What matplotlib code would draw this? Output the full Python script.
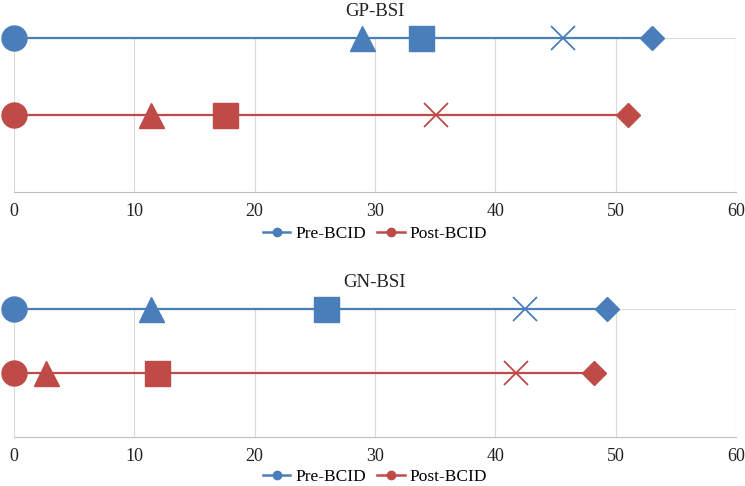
import numpy as np
import matplotlib.pyplot as plt

plt.rcParams['font.family'] = ['Liberation Serif', 'DejaVu Serif']

markers = ['o', '^', 's', 'x', 'D']
series = ['Pre-BCID', 'Post-BCID']
gp_pre = [0, 28.9, 33.8, 45.6, 53.0]
gp_post = [0, 11.4, 17.5, 35.1, 51.0]
gn_pre = [0, 11.4, 25.9, 42.5, 49.3]
gn_post = [0, 2.7, 11.9, 41.7, 48.2]
xticks = [0, 10, 20, 30, 40, 50, 60]

blue = '#4a7ebb'
red = '#be4b48'

fig = plt.figure(figsize=(7.45, 4.86), dpi=100)
ax1 = fig.add_axes([0.0188, 0.605, 0.969, 0.317])
ax2 = fig.add_axes([0.0188, 0.1008, 0.969, 0.2634])


def draw(ax, pre, post, title, legend_y):
    for vals, ypos, col, name in [(pre, 2, blue, series[0]), (post, 1, red, series[1])]:
        ax.plot([min(vals), max(vals)], [ypos, ypos], color=col, lw=1.6, zorder=3,
                clip_on=False)
        for v, m in zip(vals, markers):
            if m == 'x':
                ax.plot(v, ypos, marker=m, ms=17, mew=1.3, color=col, zorder=4,
                        clip_on=False)
            elif m == 'D':
                ax.plot(v, ypos, marker=m, ms=12, color=col, zorder=4, clip_on=False)
            else:
                ax.plot(v, ypos, marker=m, ms=18, color=col, mec=col, zorder=4,
                        clip_on=False)
        # legend proxy
        ax.plot([], [], color=col, lw=1.8, marker='o', ms=6, label=name)
    ax.set_xlim(0, 60)
    ax.set_ylim(0, 2)
    ax.set_xticks(xticks)
    ax.set_yticks([])
    for x in xticks:
        ax.axvline(x, color='#d9d9d9', lw=0.8, zorder=0)
    ax.axhline(2, color='#d9d9d9', lw=0.8, zorder=0)
    for s in ['left', 'right', 'top']:
        ax.spines[s].set_visible(False)
    ax.spines['bottom'].set_color('#bfbfbf')
    ax.spines['bottom'].set_linewidth(0.8)
    ax.tick_params(axis='x', length=0, labelsize=13, pad=8, colors='#222222')
    ax.annotate(title, xy=(30, 2), xytext=(0, 19), textcoords='offset points',
                ha='center', va='center', fontsize=13.5, color='#222222',
                annotation_clip=False)
    ax.legend(loc='center', bbox_to_anchor=(0.5, legend_y), ncol=2, frameon=False,
              fontsize=12.5, handlelength=1.6, columnspacing=0.6, handletextpad=0.3,
              borderpad=0.2)


draw(ax1, gp_pre, gp_post, 'GP-BSI', -0.275)
draw(ax2, gn_pre, gn_post, 'GN-BSI', -0.31)

fig.savefig('out.png', dpi=100)
